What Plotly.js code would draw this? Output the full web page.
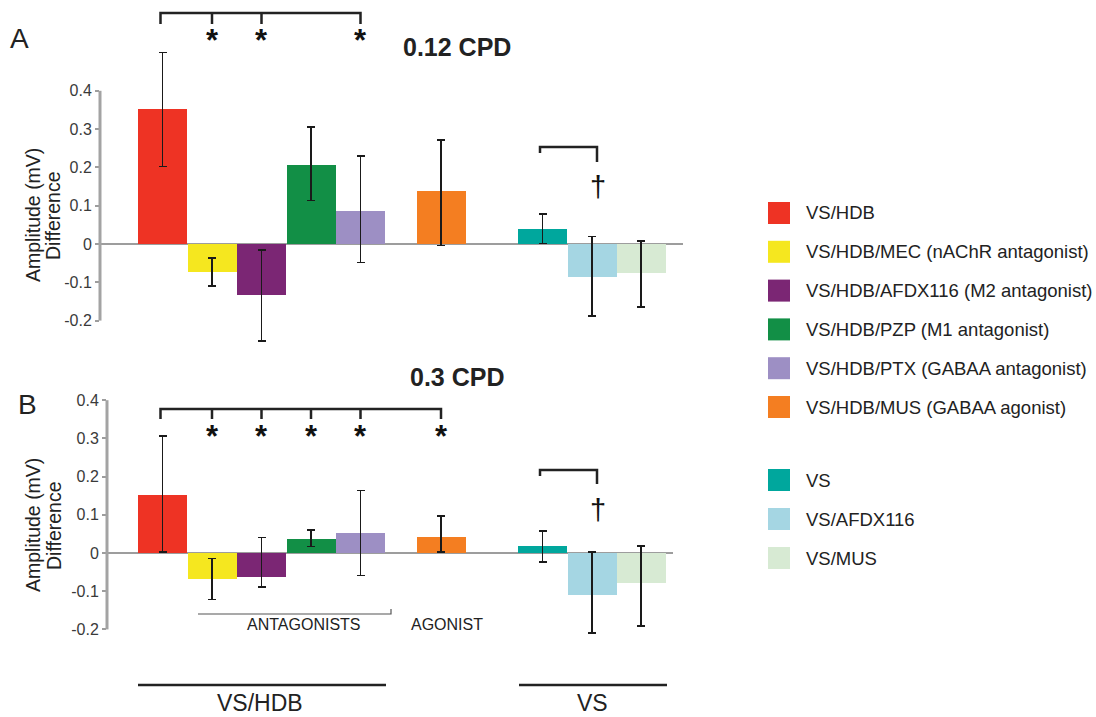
<!DOCTYPE html>
<html><head><meta charset="utf-8">
<script src="https://cdn.plot.ly/plotly-3.0.1.min.js"></script>
<style>html,body{margin:0;padding:0;background:#fff}#chart{width:1096px;height:717px}</style>
</head><body><div id="chart"></div>
<script>
// ---------------- data ----------------
const conditions = ['VS/HDB','VS/HDB/MEC (nAChR antagonist)','VS/HDB/AFDX116 (M2 antagonist)',
  'VS/HDB/PZP (M1 antagonist)','VS/HDB/PTX (GABAA antagonist)','VS/HDB/MUS (GABAA agonist)',
  'VS','VS/AFDX116','VS/MUS'];
const colors = ['#EE3324','#F5E71F','#7B2674','#128F46','#9D8FC4','#F47E21','#00A79D','#A5D6E3','#D7EAD3'];
const cpd012Mean     = [0.352,-0.072,-0.134,0.205,0.087,0.138,0.039,-0.085,-0.077];
const cpd012ErrPlus  = [0.148,0.036,0.118,0.100,0.143,0.134,0.039,0.104,0.085];
const cpd012ErrMinus = [0.150,0.037,0.119,0.092,0.135,0.142,0.038,0.103,0.088];
const cpd03Mean      = [0.152,-0.069,-0.063,0.037,0.052,0.041,0.019,-0.109,-0.079];
const cpd03ErrPlus   = [0.154,0.054,0.103,0.023,0.112,0.056,0.039,0.112,0.097];
const cpd03ErrMinus  = [0.150,0.053,0.026,0.020,0.111,0.039,0.042,0.101,0.112];
const tickVals = [-0.2,-0.1,0,0.1,0.2,0.3,0.4];
const tickText = ['-0.2','-0.1','0','0.1','0.2','0.3','0.4'];
const sigA = [1,2,4];      // differ from VS/HDB (*)
const sigB = [1,2,3,4,5];
const panelTitles = ['0.12 CPD','0.3 CPD'];
const yTitleLines = ['Amplitude (mV)','Difference'];

// ---------------- layout helpers ----------------
const W=1096, H=717;
const FONT='Liberation Sans, Arial, sans-serif';
const px = x => x/W, py = y => 1 - y/H;
const slotX = [162.5,212,261.5,311,360.5,441,542.5,592,641]; // pixel centres (x axis in px units)
const barW = 49;

function yRange(zeroPx, per01, topPx, botPx){
  return [-(botPx-zeroPx)/per01*0.1, (zeroPx-topPx)/per01*0.1];
}
const A = {zero:244, per:38.3, top:2, bot:350, xl:100, xr:683};
const B = {zero:553, per:38.2, top:395, bot:645, xl:107, xr:673};

function trace(mean, ep, em, xa, ya, name){
  return {type:'bar', name:name, x:slotX, y:mean, width:barW, xaxis:xa, yaxis:ya,
    marker:{color:colors, line:{width:0}},
    error_y:{type:'data', symmetric:false, array:ep, arrayminus:em, visible:true, color:'#1a1a1a', thickness:1.5, width:4},
    showlegend:false, hoverinfo:'skip'};
}
const data = [trace(cpd012Mean, cpd012ErrPlus, cpd012ErrMinus,'x','y',panelTitles[0]),
              trace(cpd03Mean, cpd03ErrPlus, cpd03ErrMinus,'x2','y2',panelTitles[1])];

function yax(P){
  return {domain:[py(P.bot), py(P.top)], range:yRange(P.zero,P.per,P.top,P.bot),
    tickvals:tickVals, ticktext:tickText, ticks:'outside', ticklen:4, tickwidth:2, tickcolor:'#9d9d9d',
    tickfont:{family:FONT, size:16, color:'#3a3a3a'}, showgrid:false, showline:false,
    zeroline:true, zerolinecolor:'#9d9d9d', zerolinewidth:2.5, fixedrange:true};
}
function xax(P, anchor){
  return {domain:[px(P.xl), px(P.xr)], range:[P.xl, P.xr], anchor:anchor, visible:false, fixedrange:true};
}

const shapes = [], annotations = [];
function valAt(P, ypx){ return (P.zero - ypx)/P.per*0.1; }

function panelDecor(P, xa, ya, sig, brTop, brDrop, astY, vsTop, vsDropL, vsDropR, dagY){
  // axis line
  shapes.push({type:'line', xref:'paper', yref:ya, x0:px(P.xl), x1:px(P.xl), y0:-0.2, y1:0.4,
    line:{color:'#a3a3a3', width:3}});
  // significance bracket
  const yT = valAt(P,brTop), yD = valAt(P,brDrop);
  const xEnd = slotX[sig[sig.length-1]];
  let path = `M${slotX[0]-2},${yD} L${slotX[0]-2},${yT} L${xEnd},${yT} L${xEnd},${yD}`;
  sig.forEach(i => { path += ` M${slotX[i]},${yT} L${slotX[i]},${yD}`; });
  shapes.push({type:'path', xref:xa, yref:ya, path:path, line:{color:'#222', width:2.5}});
  sig.forEach(i => annotations.push({xref:xa, yref:ya, x:slotX[i], y:valAt(P,astY), text:'*',
    showarrow:false, font:{family:FONT, size:31, color:'#111', weight:'bold'}, yanchor:'middle'}));
  // VS bracket
  const xl = slotX[6]-2.5, xr = slotX[7]+5;
  shapes.push({type:'path', xref:xa, yref:ya,
    path:`M${xl},${valAt(P,vsDropL)} L${xl},${valAt(P,vsTop)} L${xr},${valAt(P,vsTop)} L${xr},${valAt(P,vsDropR)}`,
    line:{color:'#222', width:2.5}});
  annotations.push({xref:xa, yref:ya, x:xr+1, y:valAt(P,dagY), text:'\u2020', showarrow:false,
    font:{family:FONT, size:29, color:'#111'}, yanchor:'middle'});
}
panelDecor(A,'x','y', sigA, 13, 24, 40, 147, 153, 162, 187);
panelDecor(B,'x2','y2', sigB, 409, 419, 436, 470, 476, 484, 510);

function txt(x, y, text, size, opts){
  annotations.push(Object.assign({xref:'paper', yref:'paper', x:px(x), y:py(y), text:text, showarrow:false,
    xanchor:'center', yanchor:'middle', font:{family:FONT, size:size, color:'#222'}}, opts||{}));
}
// panel letters and titles
txt(19, 38, 'A', 28);
txt(27, 404, 'B', 28);
txt(457, 47, panelTitles[0], 25, {font:{family:FONT, size:25, color:'#222', weight:'bold'}});
txt(457, 377, panelTitles[1], 25, {font:{family:FONT, size:25, color:'#222', weight:'bold'}});
// y titles (two lines each)
txt(33, 215, yTitleLines[0], 19.5, {textangle:-90});
txt(53, 216, yTitleLines[1], 19.5, {textangle:-90});
txt(33, 525, yTitleLines[0], 19.5, {textangle:-90});
txt(54, 526, yTitleLines[1], 19.5, {textangle:-90});
// group labels
txt(304, 624, 'ANTAGONISTS', 16);
txt(447, 624, 'AGONIST', 16);
shapes.push({type:'path', xref:'paper', yref:'paper',
  path:`M${px(198)},${py(614)} L${px(391)},${py(614)} L${px(391)},${py(609)}`, line:{color:'#555', width:1.2}});
shapes.push({type:'line', xref:'paper', yref:'paper', x0:px(138), x1:px(386), y0:py(685), y1:py(685), line:{color:'#222', width:2.5}});
shapes.push({type:'line', xref:'paper', yref:'paper', x0:px(519), x1:px(667), y0:py(685), y1:py(685), line:{color:'#222', width:2.5}});
txt(260, 703, 'VS/HDB', 23);
txt(592, 703, 'VS', 23);

// legend (swatches + names)
conditions.forEach((name, i) => {
  const cy = i < 6 ? 213 + i*38.8 : 480 + (i-6)*39;
  shapes.push({type:'rect', xref:'paper', yref:'paper', x0:px(768), x1:px(790), y0:py(cy+11), y1:py(cy-11),
    fillcolor:colors[i], line:{width:0}});
  txt(804, cy, name, 18.5, {xanchor:'left'});
});

const layout = {width:W, height:H, margin:{l:0,r:0,t:0,b:0}, paper_bgcolor:'#fff', plot_bgcolor:'rgba(0,0,0,0)',
  bargap:0, showlegend:false, font:{family:FONT},
  xaxis:xax(A,'y'), yaxis:Object.assign(yax(A),{anchor:'x'}),
  xaxis2:xax(B,'y2'), yaxis2:Object.assign(yax(B),{anchor:'x2'}),
  shapes:shapes, annotations:annotations};
Plotly.newPlot('chart', data, layout, {displayModeBar:false, staticPlot:true});
</script></body></html>
